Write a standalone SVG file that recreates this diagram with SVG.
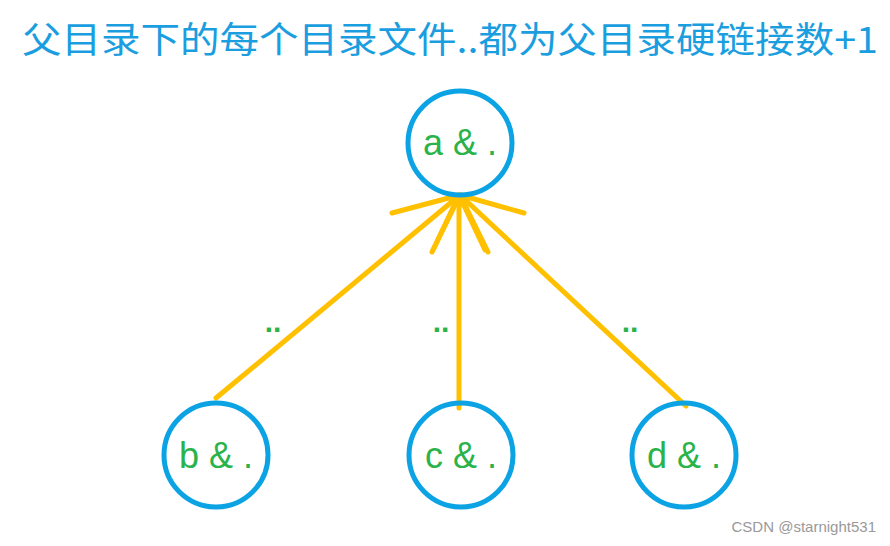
<svg xmlns="http://www.w3.org/2000/svg" width="890" height="546" viewBox="0 0 890 546">
<style>
.n{fill:none;stroke:#0ba3e4;stroke-width:5}
.t{font-family:"Liberation Sans",sans-serif;font-size:36px;fill:#2ab34a;text-anchor:middle}
.e{stroke:#ffc000;stroke-width:5;fill:none;stroke-linecap:round;stroke-linejoin:round}
.l{font-family:"Liberation Sans",sans-serif;font-size:30px;font-weight:bold;fill:#2ab34a;text-anchor:middle}
</style>
<rect width="890" height="546" fill="#fff"/>
<text x="22" y="53" font-family="'Noto Sans CJK SC',sans-serif" font-size="36" fill="#1a9ee0" textLength="856" lengthAdjust="spacingAndGlyphs">父目录下的每个目录文件..都为父目录硬链接数+1</text>
<g id="edges">
<path class="e" d="M216 398L460 195M392 213L460 195L432 252"/>
<path class="e" d="M459 408L459 195M433 250L459 195L485 250"/>
<path class="e" d="M686 406L460 195M488 252L460 195L524 213"/>
<text class="l" x="273" y="332">..</text>
<text class="l" x="441" y="332">..</text>
<text class="l" x="630" y="332">..</text>
</g>
<g id="a"><circle class="n" cx="460" cy="143" r="52"/><text class="t" x="460" y="155">a &amp; .</text></g>
<g id="b"><circle class="n" cx="216" cy="455" r="52"/><text class="t" x="216" y="468">b &amp; .</text></g>
<g id="c"><circle class="n" cx="461" cy="455" r="52"/><text class="t" x="461" y="468">c &amp; .</text></g>
<g id="d"><circle class="n" cx="684" cy="455" r="52"/><text class="t" x="684" y="468">d &amp; .</text></g>
<text x="876" y="532" font-family="'Liberation Sans',sans-serif" font-size="15" fill="#999" text-anchor="end">CSDN @starnight531</text>
</svg>
